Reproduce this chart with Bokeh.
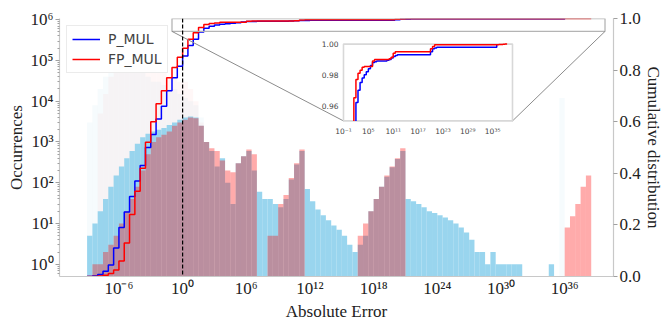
import numpy as np
from bokeh.plotting import figure
from bokeh.models import (Range1d, LinearAxis, LinearScale, LogScale, FixedTicker, Span, Legend,
                          LegendItem, ColumnDataSource, PrintfTickFormatter)
from bokeh.core.properties import value
from bokeh.embed import file_html
from bokeh.resources import INLINE

# ---------------- data ----------------
# lower edge exponent of each half-decade bin (bin = [10^e, 10^(e+0.5)) )
bin_exponents = [
    -9.0, -8.5, -8.0, -7.5, -7.0, -6.5, -6.0, -5.5, -5.0, -4.5,
    -4.0, -3.5, -3.0, -2.5, -2.0, -1.5, -1.0, -0.5, 0.0, 0.5,
    1.0, 1.5, 2.0, 2.5, 3.0, 3.5, 4.0, 4.5, 5.0, 5.5,
    6.0, 6.5, 7.0, 7.5, 8.0, 8.5, 9.0, 9.5, 10.0, 10.5,
    11.0, 11.5, 12.0, 12.5, 13.0, 13.5, 14.0, 14.5, 15.0, 15.5,
    16.0, 16.5, 17.0, 17.5, 18.0, 18.5, 19.0, 19.5, 20.0, 20.5,
    21.0, 21.5, 22.0, 22.5, 23.0, 23.5, 24.0, 24.5, 25.0, 25.5,
    26.0, 26.5, 27.0, 27.5, 28.0, 28.5, 29.0, 29.5, 30.0, 30.5,
    31.0, 31.5, 32.0, 32.5, 33.0, 33.5, 34.0, 34.5, 35.0, 35.5,
    36.0, 36.5, 37.0, 37.5, 38.0, 38.5,
]
p_mul_counts = [
    5, 10, 20, 40, 80, 150, 250, 400, 600, 900,
    1300, 1600, 1800, 2000, 2200, 2600, 3000, 3500, 4000, 4200,
    4000, 2500, 1000, 600, 250, 400, 100, 30, 300, 450,
    600, 200, 60, 40, 40, 30, 25, 40, 120, 280,
    600, 70, 35, 22, 16, 12, 9, 7, 5, 3,
    2, 3, 5, 20, 40, 80, 140, 240, 380, 600,
    40, 35, 30, 25, 20, 18, 16, 14, 12, 10,
    8, 6, 4, 2, 2, 1, 2, 1, 1, 1,
    1, 1, 0, 0, 0, 0, 0, 1, 0, 0,
    0, 0, 0, 0, 0, 0,
]
fp_mul_counts = [
    0, 1, 1, 2, 3, 5, 10, 20, 40, 80,
    200, 500, 1000, 1300, 1500, 1800, 2500, 3000, 3500, 4000,
    3800, 2500, 1000, 700, 600, 350, 200, 180, 300, 450,
    650, 500, 0, 0, 5, 5, 30, 50, 130, 300,
    650, 0, 0, 0, 0, 0, 0, 0, 0, 0,
    0, 5, 10, 20, 40, 80, 150, 250, 400, 700,
    0, 0, 0, 0, 0, 0, 0, 0, 0, 0,
    0, 0, 0, 0, 0, 0, 0, 0, 0, 0,
    0, 0, 0, 0, 0, 0, 0, 0, 0, 0,
    8, 15, 30, 80, 150, 0,
]
# faint, very thin spikes (drawn almost transparent)
p_mul_spikes = [
    3000, 8000, 20000, 40000, 60000, 80000, 80000, 80000, 70000, 60000,
    50000, 40000, 30000, 30000, 25000, 20000, 20000, 15000, 12000, 10000,
    8000, 4000, 0, 0, 0, 0, 0, 0, 0, 0,
    0, 0, 0, 0, 0, 0, 0, 0, 0, 0,
    0, 0, 0, 0, 0, 0, 0, 0, 0, 0,
    0, 0, 0, 0, 0, 0, 0, 0, 0, 0,
    0, 0, 0, 0, 0, 0, 0, 0, 0, 0,
    0, 0, 0, 0, 0, 0, 0, 0, 0, 0,
    0, 0, 0, 0, 0, 0, 0, 0, 0, 12000,
    0, 0, 0, 0, 0, 0,
]
fp_mul_spikes = [
    0, 0, 5000, 15000, 40000, 60000, 80000, 100000, 100000, 90000,
    80000, 70000, 60000, 50000, 50000, 40000, 40000, 30000, 30000, 20000,
    10000, 3000, 0, 0, 0, 0, 0, 0, 0, 0,
    0, 0, 0, 0, 0, 0, 0, 0, 0, 0,
    0, 0, 0, 0, 0, 0, 0, 0, 0, 0,
    0, 0, 0, 0, 0, 0, 0, 0, 0, 0,
    0, 0, 0, 0, 0, 0, 0, 0, 0, 0,
    0, 0, 0, 0, 0, 0, 0, 0, 0, 0,
    0, 0, 0, 0, 0, 0, 0, 0, 0, 0,
    0, 0, 0, 0, 0, 0,
]

# cumulative distribution at the bin edges (exponents -9.0 ... 39.0)
cdf_exponents = bin_exponents + [39.0]
p_mul_cdf = [
    0.0, 0.002, 0.008, 0.02, 0.045, 0.11, 0.19, 0.25, 0.31, 0.37,
    0.43, 0.50, 0.55, 0.61, 0.66, 0.72, 0.77, 0.815, 0.855, 0.895,
    0.92, 0.948, 0.962, 0.970, 0.975, 0.978, 0.980, 0.982, 0.984, 0.986,
    0.988, 0.9885, 0.989, 0.989, 0.989, 0.989, 0.989, 0.9895, 0.990, 0.991,
    0.992, 0.9925, 0.993, 0.993, 0.993, 0.993, 0.993, 0.993, 0.993, 0.993,
    0.993, 0.993, 0.993, 0.993, 0.993, 0.993, 0.993, 0.993, 0.995, 0.997,
    0.9975, 0.998, 0.998, 0.998, 0.998, 0.998, 0.998, 0.998, 0.998, 0.998,
    0.998, 0.998, 0.998, 0.998, 0.998, 0.998, 0.998, 0.998, 0.998, 0.998,
    0.998, 0.998, 0.998, 0.998, 0.998, 0.998, 0.998, 0.998, 0.998, 0.998,
    1.0, None, None, None, None, None, None,
]
fp_mul_cdf = [
    0.0, 0.0, 0.002, 0.005, 0.012, 0.025, 0.06, 0.13, 0.24, 0.33,
    0.42, 0.52, 0.60, 0.67, 0.72, 0.77, 0.81, 0.85, 0.885, 0.92,
    0.945, 0.965, 0.977, 0.981, 0.983, 0.985, 0.9855, 0.9855, 0.9855, 0.9855,
    0.989, 0.990, 0.990, 0.990, 0.990, 0.990, 0.990, 0.990, 0.9905, 0.9915,
    0.994, 0.995, 0.995, 0.995, 0.995, 0.995, 0.995, 0.995, 0.995, 0.995,
    0.995, 0.995, 0.995, 0.995, 0.995, 0.995, 0.995, 0.995, 0.997, 0.9985,
    0.9995, 0.9995, 0.9995, 0.9995, 0.9995, 0.9995, 0.9995, 0.9995, 0.9995, 0.9995,
    0.9995, 0.9995, 0.9995, 0.9995, 0.9995, 0.9995, 0.9995, 0.9995, 0.9995, 0.9995,
    0.9995, 0.9995, 0.9995, 0.9995, 0.9995, 0.9995, 0.9995, 0.9995, 0.9995, 0.9995,
    0.9996, 0.9997, 0.9998, 0.9999, 1.0, 1.0, None,
]

x_tick_exponents = [-6, 0, 6, 12, 18, 24, 30, 36]
y_tick_exponents = [0, 1, 2, 3, 4, 5, 6]
cdf_ticks = [0.0, 0.2, 0.4, 0.6, 0.8, 1.0]
inset_x_tick_exponents = [-1, 5, 11, 17, 23, 29, 35]
inset_y_ticks = [0.96, 0.98, 1.00]
series_labels = ["P_MUL", "FP_MUL"]

# ---------------- layout constants ----------------
FIG_W, FIG_H = 670, 323
B_L, B_R, B_T, B_B = 59, 57, 18, 43
FRAME_W = FIG_W - B_L - B_R
FRAME_H = FIG_H - B_T - B_B
X_LO, X_HI = -11.6, 40.6          # exponents of main x range
Y_LO, Y_HI = -0.3, 6.03           # exponents of main y range
CDF_LO, CDF_HI = 0.0, 1.0
IN_XLO, IN_XHI = -1.0, 39.8       # inset x range exponents
IN_YLO, IN_YHI = 0.95, 1.0
IN_L, IN_T, IN_W, IN_H = 343, 44, 169, 78   # inset frame in figure pixels

SERIF = "Liberation Serif"
SANS = "DejaVu Sans"
BLUE_FILL, RED_FILL = "skyblue", "red"
BLUE_LINE, RED_LINE = "#0000ff", "#ff0000"

SUP = str.maketrans("-0123456789", "⁻⁰¹²³⁴⁵⁶⁷⁸⁹")


def pow_label(k):
    return "10" + str(k).translate(SUP)


# inset ranges spread over the whole main frame, so that the inset box lands at IN_L, IN_T
in_dec_per_px = (IN_XHI - IN_XLO) / IN_W
in_x_start = IN_XLO - (IN_L - B_L) * in_dec_per_px
in_x_end = IN_XHI + (B_L + FRAME_W - IN_L - IN_W) * in_dec_per_px
in_val_per_px = (IN_YHI - IN_YLO) / IN_H
in_y_start = IN_YLO - (B_T + FRAME_H - IN_T - IN_H) * in_val_per_px
in_y_end = IN_YHI + (IN_T - B_T) * in_val_per_px

# ---------------- main figure ----------------
p = figure(width=FIG_W, height=FIG_H, x_axis_type="log", y_axis_type="log",
           x_range=Range1d(10**X_LO, 10**X_HI), y_range=Range1d(10**Y_LO, 10**Y_HI),
           output_backend="svg", toolbar_location=None,
           min_border_left=B_L, min_border_right=B_R, min_border_top=B_T, min_border_bottom=B_B)
p.extra_y_ranges = {"cdf": Range1d(CDF_LO, CDF_HI),
                    "iy": Range1d(in_y_start, in_y_end)}
p.extra_y_scales = {"cdf": LinearScale(), "iy": LinearScale()}
p.extra_x_ranges = {"ix": Range1d(10**in_x_start, 10**in_x_end)}
p.extra_x_scales = {"ix": LogScale()}
p.outline_line_color = None
p.xgrid.visible = False
p.ygrid.visible = False
p.background_fill_color = "white"

edges = np.array(bin_exponents)
left = 10.0 ** edges
right = 10.0 ** (edges + 0.5)
BOTTOM = 10.0 ** (Y_LO - 1)


def hist_source(counts):
    c = np.array(counts, dtype=float)
    m = c > 0
    return ColumnDataSource(dict(left=left[m], right=right[m], top=c[m],
                                 bottom=np.full(m.sum(), BOTTOM)))


p.quad(source=hist_source(p_mul_spikes), left="left", right="right", top="top", bottom="bottom",
       fill_color=BLUE_FILL, fill_alpha=0.08, line_color=None)
p.quad(source=hist_source(fp_mul_spikes), left="left", right="right", top="top", bottom="bottom",
       fill_color=RED_FILL, fill_alpha=0.03, line_color=None)
p.quad(source=hist_source(p_mul_counts), left="left", right="right", top="top", bottom="bottom",
       fill_color=BLUE_FILL, fill_alpha=0.85, line_color=None)
p.quad(source=hist_source(fp_mul_counts), left="left", right="right", top="top", bottom="bottom",
       fill_color=RED_FILL, fill_alpha=0.33, line_color=None)


def cdf_source(vals, floor=None):
    xs, ys = [], []
    for e, v in zip(cdf_exponents, vals):
        if v is None:
            continue
        if floor is not None:
            if v < floor:
                continue
            if not ys:              # entry into the zoomed window: vertical rise
                xs.append(10.0 ** e)
                ys.append(floor)
        xs.append(10.0 ** e)
        ys.append(v)
    return ColumnDataSource(dict(x=xs, y=ys))


r_blue = p.step("x", "y", source=cdf_source(p_mul_cdf), mode="after", y_range_name="cdf",
                line_color=BLUE_LINE, line_width=1.5)
r_red = p.step("x", "y", source=cdf_source(fp_mul_cdf), mode="after", y_range_name="cdf",
               line_color=RED_LINE, line_width=1.5)

p.add_layout(Span(location=1.0, dimension="height", line_color="black",
                  line_dash="4 2", line_width=1.2))

# zoom indicator rectangle
p.quad(left=[10**IN_XLO], right=[10**IN_XHI], bottom=[IN_YLO], top=[IN_YHI],
       y_range_name="cdf", fill_color=None, line_color="#b4b4b4", line_width=1.3)


# connectors: from the indicator's lower corners to the inset's lower corners,
# both ends expressed in the inset's coordinates
def main_to_inset_x(x_exp):
    px = B_L + (x_exp - X_LO) / (X_HI - X_LO) * FRAME_W
    return 10 ** (in_x_start + (px - B_L) * in_dec_per_px)


def cdf_to_inset_y(c):
    py = B_T + (CDF_HI - c) / (CDF_HI - CDF_LO) * FRAME_H
    return in_y_start + (B_T + FRAME_H - py) * in_val_per_px


p.segment(x0=[main_to_inset_x(IN_XLO), main_to_inset_x(IN_XHI)],
          y0=[cdf_to_inset_y(IN_YLO), cdf_to_inset_y(IN_YLO)],
          x1=[10**IN_XLO, 10**IN_XHI], y1=[IN_YLO, IN_YLO],
          x_range_name="ix", y_range_name="iy", line_color="#8c8c8c", line_width=1)

# ---------------- inset (drawn in its own ranges) ----------------
p.quad(left=[10**IN_XLO], right=[10**IN_XHI], bottom=[IN_YLO], top=[IN_YHI],
       x_range_name="ix", y_range_name="iy",
       fill_color="white", line_color="#d8d8d8", line_width=1.6)
p.step("x", "y", source=cdf_source(p_mul_cdf, IN_YLO), mode="after",
       x_range_name="ix", y_range_name="iy", line_color=BLUE_LINE, line_width=1.5)
p.step("x", "y", source=cdf_source(fp_mul_cdf, IN_YLO), mode="after",
       x_range_name="ix", y_range_name="iy", line_color=RED_LINE, line_width=1.5)
p.text(x=[10.0 ** k for k in inset_x_tick_exponents], y=[IN_YLO] * len(inset_x_tick_exponents),
       text=[pow_label(k) for k in inset_x_tick_exponents], x_range_name="ix", y_range_name="iy",
       text_font=value(SANS), text_font_size="7.5px", text_color="#444444",
       text_align="center", text_baseline="top", y_offset=6)
p.text(x=[10**IN_XLO] * len(inset_y_ticks), y=inset_y_ticks,
       text=["%.2f" % t for t in inset_y_ticks], x_range_name="ix", y_range_name="iy",
       text_font=value(SANS), text_font_size="7.5px", text_color="#444444",
       text_align="right", text_baseline="middle", x_offset=-5)

# ---------------- axes ----------------
AX_COL = "#c8c8c8"
TICK_COL = "#a0a0a0"
xa = p.xaxis[0]
xa.ticker = FixedTicker(ticks=[10.0 ** k for k in x_tick_exponents])
xa.major_label_overrides = {10.0 ** k: pow_label(k) for k in x_tick_exponents}
xa.axis_label = "Absolute Error"
ya = p.yaxis[0]
ya.ticker = FixedTicker(ticks=[10.0 ** k for k in y_tick_exponents],
                        minor_ticks=[m * 10.0 ** k for k in range(-1, 6) for m in range(2, 10)])
ya.major_label_overrides = {10.0 ** k: pow_label(k) for k in y_tick_exponents}
ya.axis_label = "Occurrences"

ra = LinearAxis(y_range_name="cdf", axis_label="Cumulative distribution")
ra.ticker = FixedTicker(ticks=cdf_ticks)
ra.formatter = PrintfTickFormatter(format="%.1f")
p.add_layout(ra, "right")

for ax in (xa, ya, ra):
    ax.axis_line_color = AX_COL
    ax.axis_line_width = 1.2
    ax.major_tick_line_color = TICK_COL
    ax.minor_tick_line_color = TICK_COL
    ax.major_tick_out = 4
    ax.major_tick_in = 0
    ax.minor_tick_out = 2
    ax.minor_tick_in = 0
    ax.major_label_text_font = SERIF
    ax.major_label_text_font_size = "17px"
    ax.major_label_text_color = "#222222"
    ax.axis_label_text_font = SERIF
    ax.axis_label_text_font_size = "17px"
    ax.axis_label_text_font_style = "normal"
    ax.axis_label_text_color = "#222222"
    ax.major_label_standoff = 2
    ax.axis_label_standoff = 2
xa.major_tick_line_color = None
xa.major_tick_out = 0
xa.axis_label_standoff = 1
ra.axis_label_standoff = 0
ra.major_label_standoff = 2

legend = Legend(items=[LegendItem(label=series_labels[0], renderers=[r_blue]),
                       LegendItem(label=series_labels[1], renderers=[r_red])],
                location="top_left", margin=7, padding=5, spacing=4,
                glyph_width=28, glyph_height=14, label_height=14, label_standoff=8,
                label_text_font=SANS, label_text_font_size="14px",
                border_line_color="#d8d8d8", border_line_width=1,
                background_fill_color="white", background_fill_alpha=0.85)
p.add_layout(legend)

open("out.html", "w").write(file_html(p, INLINE))
